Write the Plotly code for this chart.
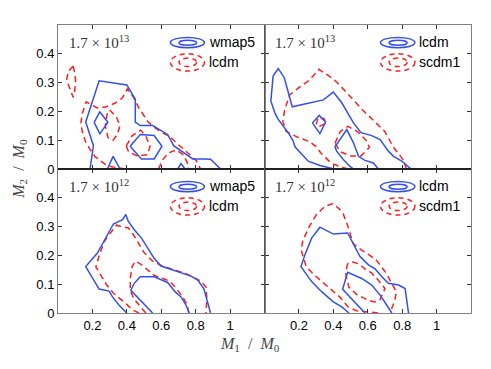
import plotly.graph_objects as go
from plotly.subplots import make_subplots

# axis ticks
x_ticks = [0.2, 0.4, 0.6, 0.8, 1]
x_tick_text = ['0.2', '0.4', '0.6', '0.8', '1']
y_ticks = [0, 0.1, 0.2, 0.3, 0.4]
y_tick_text = ['0', '0.1', '0.2', '0.3', '0.4']

panel_mass = ['1.7 × 10<sup>13</sup>', '1.7 × 10<sup>13</sup>',
              '1.7 × 10<sup>12</sup>', '1.7 × 10<sup>12</sup>']
panel_names = [('wmap5', 'lcdm'), ('lcdm', 'scdm1'),
               ('wmap5', 'lcdm'), ('lcdm', 'scdm1')]

# contour paths, (M1/M0, M2/M0)
# top left: wmap5 (blue) vs lcdm (red)
tl_blue_outer = [(0.186, 0), (0.206, 0.081), (0.161, 0.163), (0.239, 0.306), (0.40, 0.292),
                 (0.449, 0.242), (0.449, 0.163), (0.478, 0.151), (0.550, 0.151), (0.637, 0.120),
                 (0.672, 0.081), (0.724, 0.058), (0.783, 0.035), (0.850, 0.035), (0.886, 0.034),
                 (0.945, 0)]
tl_blue_diamond = [(0.21, 0.162), (0.243, 0.198), (0.29, 0.162), (0.243, 0.122), (0.21, 0.162)]
tl_blue_hex = [(0.419, 0.079), (0.478, 0.120), (0.559, 0.116), (0.604, 0.079), (0.559, 0.035),
               (0.485, 0.035), (0.419, 0.079)]
tl_blue_tri = [(0.287, 0), (0.320, 0.044), (0.361, 0)]
tl_blue_tip = [(0.695, 0), (0.715, 0.019), (0.738, 0)]

tl_red_blob = [(0.088, 0.358), (0.059, 0.338), (0.050, 0.309), (0.069, 0.280), (0.088, 0.249),
               (0.098, 0.274), (0.102, 0.309), (0.098, 0.332), (0.088, 0.358)]
tl_red_outer = [(0.391, 0), (0.310, 0.008), (0.273, 0.017), (0.244, 0.031), (0.215, 0.043),
                (0.186, 0.068), (0.160, 0.095), (0.141, 0.130), (0.133, 0.159), (0.141, 0.193),
                (0.164, 0.233), (0.228, 0.212), (0.275, 0.215), (0.333, 0.229), (0.374, 0.247),
                (0.403, 0.278), (0.438, 0.250), (0.467, 0.215), (0.496, 0.188), (0.524, 0.163),
                (0.566, 0.142), (0.601, 0.128), (0.653, 0.111), (0.688, 0.090), (0.723, 0.073),
                (0.764, 0.049), (0.805, 0.028), (0.828, 0)]
tl_red_mid = [(0.30, 0.205), (0.34, 0.18), (0.36, 0.15), (0.345, 0.12), (0.32, 0.10),
              (0.29, 0.11), (0.275, 0.15), (0.285, 0.19), (0.30, 0.205)]
tl_red_hex = [(0.397, 0.08), (0.43, 0.115), (0.48, 0.135), (0.51, 0.115), (0.535, 0.08),
              (0.52, 0.05), (0.46, 0.045), (0.41, 0.06), (0.397, 0.08)]
tl_red_arc = [(0.584, 0), (0.607, 0.031), (0.642, 0.056), (0.688, 0.066), (0.729, 0.049),
              (0.752, 0.021), (0.758, 0)]

# top right: lcdm (blue) vs scdm1 (red)
tr_blue_outer = [(0.406, 0), (0.322, 0.012), (0.254, 0.027), (0.216, 0.050), (0.177, 0.077),
                 (0.167, 0.097), (0.138, 0.126), (0.109, 0.149), (0.080, 0.172), (0.060, 0.195),
                 (0.037, 0.236), (0.050, 0.323), (0.080, 0.349), (0.115, 0.317), (0.138, 0.271),
                 (0.161, 0.216), (0.342, 0.240), (0.400, 0.267), (0.449, 0.230), (0.487, 0.190),
                 (0.517, 0.160), (0.561, 0.126), (0.623, 0.116), (0.672, 0.102), (0.701, 0.077),
                 (0.720, 0.062), (0.750, 0.044), (0.798, 0.027), (0.852, 0)]
tr_blue_diamond = [(0.278, 0.160), (0.318, 0.186), (0.355, 0.163), (0.322, 0.123), (0.278, 0.160)]
tr_blue_inner = [(0.517, 0), (0.497, 0.009), (0.458, 0.033), (0.419, 0.062), (0.410, 0.077),
                 (0.478, 0.137), (0.517, 0.091), (0.546, 0.044), (0.584, 0.030), (0.633, 0.021),
                 (0.662, 0)]

tr_red_outer = [(0.485, 0), (0.44, 0.008), (0.388, 0.020), (0.36, 0.037), (0.330, 0.054),
                (0.30, 0.078), (0.262, 0.095), (0.194, 0.110), (0.126, 0.130), (0.107, 0.164),
                (0.117, 0.205), (0.146, 0.257), (0.194, 0.280), (0.262, 0.309), (0.316, 0.346),
                (0.37, 0.325), (0.418, 0.303), (0.47, 0.27), (0.514, 0.240), (0.57, 0.205),
                (0.631, 0.170), (0.699, 0.130), (0.748, 0.077), (0.807, 0.031), (0.825, 0)]
tr_red_small = [(0.31, 0.175), (0.30, 0.155), (0.32, 0.148), (0.36, 0.16), (0.345, 0.175),
                (0.31, 0.175)]
tr_red_inner = [(0.41, 0.09), (0.44, 0.13), (0.485, 0.148), (0.54, 0.13), (0.59, 0.10),
                (0.61, 0.075), (0.56, 0.045), (0.50, 0.045), (0.44, 0.06), (0.41, 0.09)]

# bottom left: wmap5 (blue) vs lcdm (red)
bl_blue_outer = [(0.4, 0), (0.355, 0.027), (0.317, 0.056), (0.297, 0.076), (0.239, 0.083),
                 (0.161, 0.161), (0.229, 0.208), (0.278, 0.260), (0.322, 0.309), (0.375, 0.324),
                 (0.394, 0.342), (0.408, 0.319), (0.443, 0.289), (0.485, 0.260), (0.520, 0.225),
                 (0.559, 0.190), (0.598, 0.163), (0.656, 0.152), (0.715, 0.140), (0.773, 0.128),
                 (0.812, 0.114), (0.847, 0.085), (0.877, 0.021), (0.886, 0)]
bl_blue_inner = [(0.55, 0), (0.491, 0.036), (0.423, 0.079), (0.443, 0.103), (0.478, 0.126),
                 (0.559, 0.126), (0.637, 0.106), (0.680, 0.074), (0.715, 0.056), (0.744, 0.027),
                 (0.763, 0)]

bl_red_outer = [(0.47, 0), (0.43, 0.012), (0.40, 0.03), (0.36, 0.05), (0.32, 0.07), (0.28, 0.10),
                (0.25, 0.13), (0.22, 0.16), (0.24, 0.20), (0.27, 0.25), (0.32, 0.29), (0.34, 0.305),
                (0.37, 0.30), (0.41, 0.295), (0.44, 0.27), (0.47, 0.24), (0.50, 0.21), (0.55, 0.18),
                (0.60, 0.165), (0.65, 0.155), (0.70, 0.145), (0.75, 0.135), (0.80, 0.12),
                (0.83, 0.11), (0.86, 0.09), (0.865, 0.05), (0.86, 0)]
bl_red_inner = [(0.51, 0), (0.48, 0.02), (0.44, 0.05), (0.42, 0.08), (0.42, 0.12), (0.43, 0.16),
                (0.45, 0.18), (0.48, 0.17), (0.52, 0.15), (0.56, 0.13), (0.61, 0.12), (0.65, 0.11),
                (0.68, 0.09), (0.72, 0.06), (0.75, 0.03), (0.76, 0)]

# bottom right: lcdm (blue) vs scdm1 (red)
br_blue_outer = [(0.491, 0), (0.449, 0.021), (0.400, 0.039), (0.332, 0.074), (0.274, 0.109),
                 (0.212, 0.161), (0.235, 0.202), (0.274, 0.260), (0.322, 0.298), (0.400, 0.274),
                 (0.483, 0.278), (0.517, 0.237), (0.555, 0.196), (0.604, 0.167), (0.643, 0.153),
                 (0.682, 0.126), (0.720, 0.103), (0.779, 0.097), (0.817, 0.085), (0.837, 0)]
br_blue_inner = [(0.584, 0), (0.517, 0.041), (0.454, 0.082), (0.483, 0.141), (0.565, 0.120),
                 (0.623, 0.097), (0.672, 0.062), (0.711, 0.027), (0.740, 0)]

br_red_outer = [(0.66, 0), (0.60, 0.003), (0.534, 0.008), (0.486, 0.021), (0.437, 0.056),
                (0.359, 0.096), (0.291, 0.131), (0.243, 0.160), (0.213, 0.218), (0.223, 0.252),
                (0.26, 0.30), (0.30, 0.34), (0.35, 0.37), (0.398, 0.380), (0.437, 0.36),
                (0.457, 0.345), (0.486, 0.299), (0.515, 0.241), (0.56, 0.22), (0.612, 0.2),
                (0.651, 0.183), (0.708, 0.137), (0.748, 0.096), (0.767, 0.073), (0.757, 0.044),
                (0.738, 0.015), (0.73, 0)]
br_red_inner = [(0.484, 0.172), (0.47, 0.14), (0.49, 0.09), (0.535, 0.065), (0.60, 0.045),
                (0.64, 0.038), (0.67, 0.045), (0.70, 0.085), (0.66, 0.115), (0.62, 0.14),
                (0.59, 0.15), (0.55, 0.17), (0.51, 0.178), (0.484, 0.172)]

panels = [
    ([tl_blue_outer, tl_blue_diamond, tl_blue_hex, tl_blue_tri, tl_blue_tip],
     [tl_red_blob, tl_red_outer, tl_red_mid, tl_red_hex, tl_red_arc]),
    ([tr_blue_outer, tr_blue_diamond, tr_blue_inner],
     [tr_red_outer, tr_red_small, tr_red_inner]),
    ([bl_blue_outer, bl_blue_inner], [bl_red_outer, bl_red_inner]),
    ([br_blue_outer, br_blue_inner], [br_red_outer, br_red_inner]),
]

BLUE = 'rgb(50,80,240)'
RED = 'rgb(255,30,30)'
FRAME = '#808080'

fig = make_subplots(rows=2, cols=2, horizontal_spacing=0, vertical_spacing=0)

for i, (blues, reds) in enumerate(panels):
    row, col = i // 2 + 1, i % 2 + 1
    for path in reds:
        fig.add_trace(go.Scatter(x=[p[0] for p in path], y=[p[1] for p in path], mode='lines',
                                 line=dict(color=RED, width=1.5, dash='6px,4px'),
                                 showlegend=False, hoverinfo='skip'), row=row, col=col)
    for path in blues:
        fig.add_trace(go.Scatter(x=[p[0] for p in path], y=[p[1] for p in path], mode='lines',
                                 line=dict(color=BLUE, width=1.5),
                                 showlegend=False, hoverinfo='skip'), row=row, col=col)

    sfx = '' if i == 0 else str(i + 1)
    xr, yr = 'x' + sfx, 'y' + sfx
    # legend-like symbols in each panel
    lx0, lx1 = (0.653, 0.851) if col == 1 else (0.674, 0.874)
    ix0, ix1 = lx0 + 0.05, lx1 - 0.045
    tx = lx1 + 0.012
    fig.add_shape(type='circle', xref=xr, yref=yr, x0=lx0, x1=lx1, y0=0.421, y1=0.457,
                  line=dict(color=BLUE, width=1.5))
    fig.add_shape(type='circle', xref=xr, yref=yr, x0=ix0, x1=ix1, y0=0.430, y1=0.447,
                  line=dict(color=BLUE, width=1.5))
    fig.add_shape(type='circle', xref=xr, yref=yr, x0=lx0, x1=lx1, y0=0.340, y1=0.400,
                  line=dict(color=RED, width=1.5, dash='5px,4px'))
    fig.add_shape(type='circle', xref=xr, yref=yr, x0=ix0, x1=ix1, y0=0.356, y1=0.385,
                  line=dict(color=RED, width=1.5, dash='5px,4px'))
    fig.add_annotation(xref=xr, yref=yr, x=tx, y=0.441, text=panel_names[i][0], showarrow=False,
                       xanchor='left', yanchor='middle',
                       font=dict(family='Liberation Sans', size=14, color='black'))
    fig.add_annotation(xref=xr, yref=yr, x=tx, y=0.372, text=panel_names[i][1], showarrow=False,
                       xanchor='left', yanchor='middle',
                       font=dict(family='Liberation Sans', size=14, color='black'))
    fig.add_annotation(xref=xr, yref=yr, x=0.05, y=0.44, text=panel_mass[i], showarrow=False,
                       xanchor='left', yanchor='middle',
                       font=dict(family='Liberation Serif', size=15, color='#333'))

axis_common = dict(showline=True, linecolor=FRAME, linewidth=1, mirror='ticks', ticks='inside',
                   ticklen=4, tickcolor='#333', tickwidth=1, showgrid=False, zeroline=False,
                   tickfont=dict(family='Liberation Sans', size=13, color='black'))
for i in range(4):
    row, col = i // 2 + 1, i % 2 + 1
    fig.update_xaxes(range=[0, 1.2], tickvals=x_ticks, ticktext=x_tick_text,
                     showticklabels=(row == 2), **axis_common, row=row, col=col)
    fig.update_yaxes(range=[0, 0.5], tickvals=y_ticks, ticktext=y_tick_text,
                     showticklabels=(col == 1), **axis_common, row=row, col=col)

# dark middle line where the upper panels end
fig.add_shape(type='line', xref='paper', yref='paper', x0=0, x1=1, y0=0.5, y1=0.5,
              line=dict(color='black', width=1.5))
fig.add_shape(type='line', xref='paper', yref='paper', x0=0.5, x1=0.5, y0=0, y1=1,
              line=dict(color='#555', width=1))

fig.add_annotation(xref='paper', yref='paper', x=0.465, y=-0.068,
                   text='<i>M</i><sub>1</sub>  /  <i>M</i><sub>0</sub>', showarrow=False,
                   xanchor='center', yanchor='top',
                   font=dict(family='Liberation Serif', size=16, color='#444'))
fig.add_annotation(xref='paper', yref='paper', x=-0.095, y=0.5, textangle=-90,
                   text='<i>M</i><sub>2</sub>  /  <i>M</i><sub>0</sub>', showarrow=False,
                   xanchor='center', yanchor='middle',
                   font=dict(family='Liberation Serif', size=16, color='#444'))

# page body adds 8px around the figure, so the figure is a bit smaller
fig.update_layout(width=475, height=353, margin=dict(l=50, r=12, t=17, b=48),
                  plot_bgcolor='white', paper_bgcolor='white', showlegend=False)

fig.write_html("out.html")
